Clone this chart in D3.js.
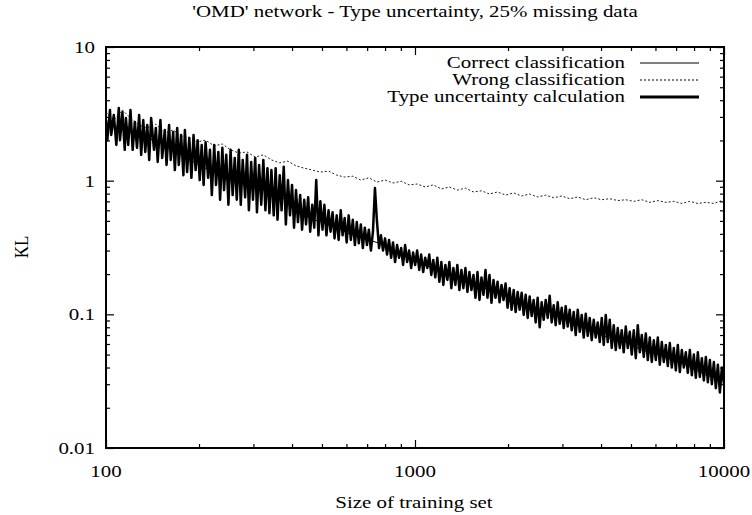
<!DOCTYPE html>
<html>
<head>
<meta charset="utf-8">
<script src="https://cdn.jsdelivr.net/npm/d3@7"></script>
<style>
  body { margin: 0; background: #fff; }
  svg text { font-family: "Liberation Serif", "Times New Roman", "DejaVu Serif", serif; font-size: 17px; fill: #000; }
</style>
</head>
<body>
<div id="chart"></div>
<script>
// training set sizes (x grid of the curves)
var sizes = [100,101,103,104,106,108,110,111,113,115,116,118,120,122,124,126,128,130,132,134,
  136,138,140,143,145,147,150,152,155,157,160,162,165,167,170,172,175,178,180,183,
  186,189,192,195,198,201,204,207,210,214,217,220,224,227,231,234,238,241,245,249,
  253,257,261,265,269,273,277,282,286,290,295,299,304,308,313,318,323,328,333,338,
  343,349,354,359,365,370,376,382,388,394,400,406,412,418,425,431,438,444,451,458,
  465,472,479,487,494,502,509,517,525,533,541,549,558,566,575,583,592,601,610,620,
  629,639,648,658,668,678,688,699,709,720,731,742,753,765,776,788,800,812,824,837,
  849,862,875,888,902,915,929,943,957,972,986,1001,1016,1032,1047,1063,1079,1096,1112,1129,
  1146,1163,1181,1199,1217,1235,1254,1273,1292,1311,1331,1351,1371,1392,1413,1434,1456,1478,1500,1523,
  1546,1569,1593,1617,1641,1666,1691,1716,1742,1768,1795,1822,1850,1878,1906,1934,1964,1993,2024,2054,
  2086,2117,2149,2181,2214,2248,2281,2316,2350,2386,2421,2458,2494,2532,2570,2609,2648,2688,2728,2769,
  2811,2853,2896,2940,2984,3029,3074,3120,3167,3215,3263,3312,3362,3413,3464,3516,3569,3623,3677,3732,
  3788,3845,3903,3962,4021,4082,4143,4205,4268,4332,4397,4463,4530,4598,4667,4737,4809,4881,4955,5029,
  5105,5182,5260,5339,5419,5500,5583,5667,5752,5838,5926,6015,6106,6197,6291,6385,6482,6579,6678,6778,
  6880,6984,7088,7195,7303,7413,7524,7637,7752,7868,7987,8106,8229,8352,8478,8605,8735,8866,9000,9135,
  9272,9411,9553,9696,9843,10000];

// "Type uncertainty calculation" (thick line)
var typeKL = [2.84,2.01,3.38,2.20,3.10,1.85,3.50,2.01,3.26,1.70,
  2.94,1.85,3.38,1.70,2.75,1.76,3.10,1.56,2.84,1.64,
  2.61,1.43,2.94,1.70,2.48,1.38,2.84,1.48,2.39,1.31,
  2.61,1.43,2.31,1.20,2.48,1.31,2.20,1.10,2.39,1.16,
  2.09,1.05,2.20,1.20,2.01,1.01,1.85,0.93,1.94,1.05,
  1.70,0.78,1.85,0.93,1.64,0.72,1.76,0.85,1.56,0.66,
  1.70,0.78,1.48,0.72,1.70,0.66,1.43,0.75,1.56,0.60,
  1.38,0.72,1.48,0.58,1.31,0.66,1.43,0.60,1.24,0.57,
  1.20,0.55,1.24,0.51,1.10,0.60,1.27,0.47,1.01,0.55,
  0.93,0.445,0.85,0.49,0.78,0.43,0.72,0.47,0.75,0.415,
  0.66,0.445,1.01,0.39,0.70,0.43,0.66,0.39,0.60,0.415,
  0.58,0.37,0.55,0.36,0.60,0.39,0.525,0.345,0.55,0.36,
  0.51,0.33,0.49,0.34,0.47,0.313,0.445,0.33,0.43,0.30,
  0.415,0.88,0.50,0.313,0.39,0.30,0.37,0.28,0.36,0.265,
  0.345,0.246,0.33,0.265,0.313,0.234,0.33,0.246,0.30,0.222,
  0.29,0.234,0.30,0.215,0.28,0.207,0.265,0.222,0.28,0.197,
  0.255,0.189,0.265,0.175,0.246,0.166,0.234,0.181,0.246,0.157,
  0.222,0.166,0.234,0.152,0.215,0.157,0.222,0.147,0.207,0.152,
  0.197,0.133,0.207,0.128,0.189,0.140,0.215,0.133,0.197,0.122,
  0.181,0.133,0.175,0.123,0.166,0.128,0.170,0.112,0.157,0.108,
  0.152,0.104,0.147,0.108,0.145,0.099,0.140,0.094,0.136,0.097,
  0.128,0.087,0.133,0.080,0.123,0.091,0.128,0.094,0.138,0.087,
  0.117,0.083,0.123,0.085,0.112,0.079,0.115,0.081,0.108,0.076,
  0.104,0.070,0.108,0.074,0.099,0.067,0.101,0.069,0.094,0.064,
  0.091,0.067,0.087,0.062,0.094,0.059,0.099,0.062,0.091,0.056,
  0.083,0.054,0.079,0.056,0.076,0.052,0.081,0.056,0.074,0.050,
  0.076,0.047,0.083,0.052,0.070,0.048,0.072,0.0455,0.067,0.044,
  0.064,0.0455,0.067,0.042,0.062,0.044,0.059,0.041,0.061,0.040,
  0.056,0.038,0.059,0.037,0.054,0.040,0.052,0.0365,0.054,0.035,
  0.050,0.0335,0.052,0.034,0.047,0.032,0.048,0.031,0.0455,0.030,
  0.044,0.028,0.042,0.026,0.040,0.030];

// "Wrong classification" (dashed)
var wrongSizes = [100,106,113,120,128,136,145,155,165,175,186,198,210,224,238,253,269,286,304,323,
  343,365,388,412,438,465,494,525,558,592,629,668,709,753,800,849,902,957,1016,1079,
  1146,1217,1292,1371,1456,1546,1641,1742,1850,1964,2086,2214,2350,2494,2648,2811,2984,3167,3362,3569,
  3788,4021,4268,4530,4809,5105,5419,5752,6106,6482,6880,7303,7752,8229,8735,9272,9843,10000];
var wrongKL = [3.26,2.84,3.38,2.94,2.61,2.48,2.65,2.27,2.39,2.16,2.09,1.95,2.01,1.82,1.88,1.70,1.61,1.64,1.50,1.56,
  1.43,1.36,1.40,1.29,1.24,1.20,1.16,1.18,1.10,1.065,1.08,1.01,1.05,0.977,1.01,0.96,0.99,0.93,0.944,0.897,
  0.93,0.866,0.897,0.85,0.88,0.823,0.84,0.795,0.823,0.78,0.81,0.768,0.795,0.755,0.78,0.745,0.768,0.733,0.755,0.72,
  0.745,0.72,0.733,0.71,0.72,0.70,0.72,0.688,0.71,0.688,0.70,0.675,0.70,0.675,0.688,0.675,0.71,0.72];

// "Correct classification" (thin solid, mostly under the thick line)
var correctSizes = [100,113,128,145,165,186,210,238,269,304,343,388,438,494,558,629,709,800,902,1016,
  1146,1292,1456,1641,1850,2086,2350,2648,2984,3362,3788,4268,4809,5419,6106,6880,7752,8735,9843];
var correctKL = [2.61,2.48,2.09,2.01,1.70,1.43,1.24,1.16,0.977,0.93,0.78,0.72,0.55,0.49,0.443,0.39,0.36,0.33,0.28,0.246,
  0.222,0.197,0.1745,0.160,0.147,0.128,0.1115,0.108,0.094,0.083,0.0738,0.0665,0.0621,0.054,0.050,0.0455,0.0404,0.0352,0.0323];

var xTickLabels = ["100", "1000", "10000"];
var yTickLabels = ["0.01", "0.1", "1", "10"];
var legendNames = ["Correct classification", "Wrong classification", "Type uncertainty calculation"];

var width = 752, height = 515;
var plotLeft = 106, plotRight = 724, plotTop = 47, plotBottom = 448;
var stretch = 1.23; // the scanned text is wider than it is tall

var svg = d3.select("#chart").append("svg")
  .attr("width", width)
  .attr("height", height);

var x = d3.scaleLog().domain([100, 10000]).range([plotLeft, plotRight]);
var y = d3.scaleLog().domain([0.01, 10]).range([plotBottom, plotTop]);

var xMajor = xTickLabels.map(Number);
var yMajor = yTickLabels.map(Number);
var xMinor = x.ticks().filter(function (d) { return xMajor.indexOf(d) < 0; });
var yMinor = y.ticks().filter(function (d) { return yMajor.indexOf(d) < 0; });

svg.append("clipPath").attr("id", "plot")
  .append("rect")
  .attr("x", plotLeft).attr("y", plotTop)
  .attr("width", plotRight - plotLeft).attr("height", plotBottom - plotTop);

var line = d3.line()
  .x(function (d) { return x(d[0]); })
  .y(function (d) { return y(d[1]); });

var curves = svg.append("g").attr("clip-path", "url(#plot)");

curves.append("path")
  .attr("d", line(d3.zip(wrongSizes, wrongKL)))
  .attr("fill", "none")
  .attr("stroke", "#222")
  .attr("stroke-width", 1)
  .attr("stroke-dasharray", "2,2");

curves.append("path")
  .attr("d", line(d3.zip(correctSizes, correctKL)))
  .attr("fill", "none")
  .attr("stroke", "#000")
  .attr("stroke-width", 1);

curves.append("path")
  .attr("d", line(d3.zip(sizes, typeKL)))
  .attr("fill", "none")
  .attr("stroke", "#000")
  .attr("stroke-width", 2.5)
  .attr("stroke-linejoin", "round");

// inward ticks on all four sides
function ticks(axis, pos, vals, len) {
  var g = svg.append("g")
    .attr("transform", pos)
    .call(axis.tickValues(vals).tickSize(-len).tickFormat(""));
  g.select(".domain").remove();
  g.selectAll("line").attr("stroke", "#000").attr("stroke-width", 1.2);
}
ticks(d3.axisBottom(x), "translate(0," + plotBottom + ")", xMajor, 8);
ticks(d3.axisBottom(x), "translate(0," + plotBottom + ")", xMinor, 4);
ticks(d3.axisTop(x), "translate(0," + plotTop + ")", xMajor, 8);
ticks(d3.axisTop(x), "translate(0," + plotTop + ")", xMinor, 4);
ticks(d3.axisLeft(y), "translate(" + plotLeft + ",0)", yMajor, 8);
ticks(d3.axisLeft(y), "translate(" + plotLeft + ",0)", yMinor, 4);
ticks(d3.axisRight(y), "translate(" + plotRight + ",0)", yMajor, 8);
ticks(d3.axisRight(y), "translate(" + plotRight + ",0)", yMinor, 4);

svg.append("rect")
  .attr("x", plotLeft).attr("y", plotTop)
  .attr("width", plotRight - plotLeft).attr("height", plotBottom - plotTop)
  .attr("fill", "none")
  .attr("stroke", "#000")
  .attr("stroke-width", 2);

function label(px, py, str, anchor) {
  return svg.append("text")
    .attr("transform", "translate(" + px + "," + py + ") scale(" + stretch + ",1)")
    .attr("text-anchor", anchor)
    .text(str);
}

// tick labels
xTickLabels.forEach(function (d) { label(x(+d), plotBottom + 29, d, "middle"); });
yTickLabels.forEach(function (d) { label(plotLeft - 11, y(+d) + 6, d, "end"); });

label((plotLeft + plotRight) / 2, 17, "'OMD' network - Type uncertainty, 25% missing data", "middle");
label(414, 508, "Size of training set", "middle");

svg.append("text")
  .attr("transform", "translate(28,247) rotate(-90) scale(1,1.15)")
  .attr("text-anchor", "middle")
  .text("KL");

// legend
legendNames.forEach(function (d, i) {
  label(625, 68 + i * 17, d, "end");
});

svg.selectAll(".legend-line").data(legendNames).enter().append("line")
  .attr("class", "legend-line")
  .attr("x1", 640).attr("x2", 699)
  .attr("y1", function (d, i) { return 63 + i * 17; })
  .attr("y2", function (d, i) { return 63 + i * 17; })
  .attr("stroke", "#000")
  .attr("stroke-width", function (d, i) { return i === 2 ? 3 : 1; })
  .attr("stroke-dasharray", function (d, i) { return i === 1 ? "2,2" : null; });
</script>
</body>
</html>
